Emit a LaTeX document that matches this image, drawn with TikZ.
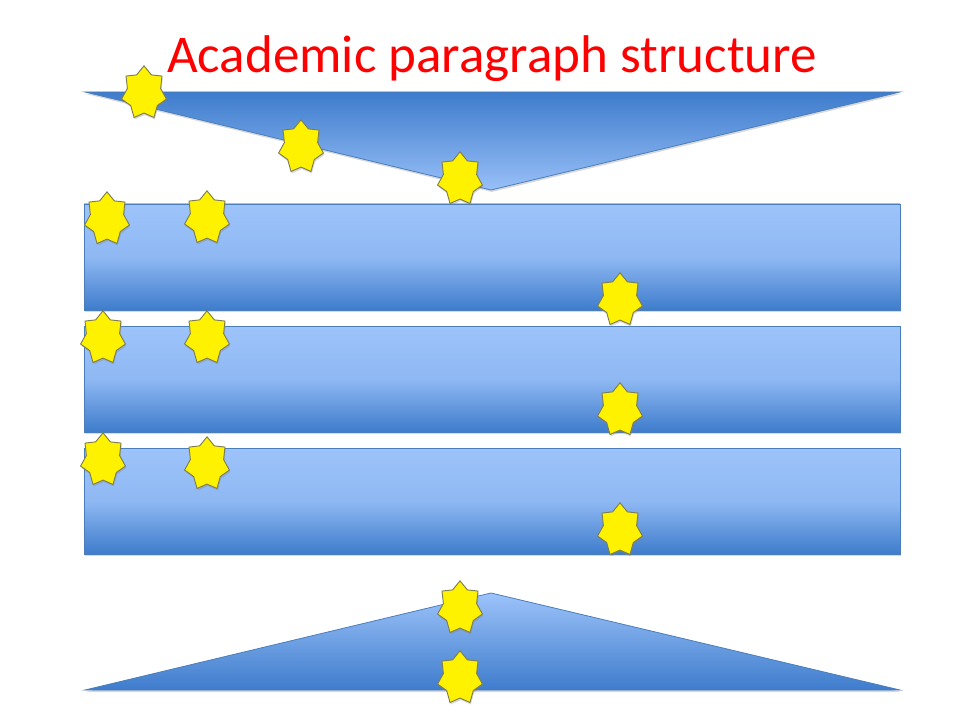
\documentclass[tikz,border=0pt]{standalone}
\usepackage{fontspec}
\setmainfont{Carlito}
\usetikzlibrary{shapes.geometric,shadows}
\definecolor{barlight}{RGB}{157,195,250}
\definecolor{bardark}{RGB}{62,124,204}
\definecolor{barline}{RGB}{74,126,187}
\definecolor{starline}{RGB}{125,125,80}
\tikzset{
	shade/.style={drop shadow={shadow xshift=0.6pt, shadow yshift=-1.5pt, opacity=0.3}},
	bar/.style={shade, draw=barline, line width=0.6pt, top color=barlight, bottom color=bardark, middle color=barlight!85!bardark},
	sevenstar/.style={star, star points=7, star point ratio=1.35, minimum size=34.5pt, inner sep=0pt,
		fill=yellow, draw=starline, line width=0.7pt, yscale=1.18, transform shape, shade}
}
\begin{document}
\begin{tikzpicture}[x=0.75pt, y=-0.75pt]
				\useasboundingbox (0,0) rectangle (960,720);
				\node[anchor=base, text=red, font=\fontsize{39.8pt}{48pt}\selectfont] (title) at (492,73) {Academic paragraph structure};
				% funnel at the top
				\path[shade, draw=barline, line width=0.6pt, top color=bardark, bottom color=barlight!95!bardark] (85,92) -- (900,92) -- (491,190) -- cycle;
				% three body bars
				\path[bar] (84,204) rectangle (900,310);
				\path[bar] (84,326) rectangle (900,432);
				\path[bar] (84,448) rectangle (900,554);
				% funnel at the bottom
				\path[shade, draw=barline, line width=0.6pt, top color=barlight, bottom color=bardark] (85,690) -- (491,593) -- (900,690) -- cycle;
				% stars
				\node[sevenstar] (s1) at (144,93) {};
				\node[sevenstar] (s2) at (301,147) {};
				\node[sevenstar] (s3) at (460,179) {};
				\node[sevenstar] (s4) at (107,219) {};
				\node[sevenstar] (s5) at (207,218) {};
				\node[sevenstar] (s6) at (620,300) {};
				\node[sevenstar] (s7) at (103,338) {};
				\node[sevenstar] (s8) at (207,338) {};
				\node[sevenstar] (s9) at (620,410) {};
				\node[sevenstar] (s10) at (103,460) {};
				\node[sevenstar] (s11) at (207,464) {};
				\node[sevenstar] (s12) at (620,530) {};
				\node[sevenstar] (s13) at (460,608) {};
				\node[sevenstar] (s14) at (460,678) {};
\end{tikzpicture}
\end{document}
